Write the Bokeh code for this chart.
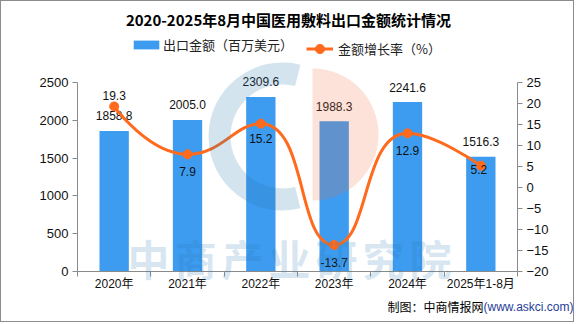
import math
import numpy as np
from bokeh.plotting import figure
from bokeh.models import Range1d, LinearAxis, FixedTicker, Label, Legend, LegendItem
from bokeh.core.properties import value
from bokeh.embed import file_html
from bokeh.resources import INLINE

# ---------------- data ----------------
categories = ["2020年", "2021年", "2022年", "2023年", "2024年", "2025年1-8月"]
export_value = [1858.8, 2005.0, 2309.6, 1988.3, 2241.6, 1516.3]   # 百万美元
growth_rate = [19.3, 7.9, 15.2, -13.7, 12.9, 5.2]                 # %
left_ticks = [0, 500, 1000, 1500, 2000, 2500]
right_ticks = [-20, -15, -10, -5, 0, 5, 10, 15, 20, 25]
LMIN, LMAX = 0, 2500
RMIN, RMAX = -20, 25

# ---------------- style ----------------
BAR = "#3d9cf0"
LINE = "#ff6a1c"
AXIS = "#8a8a8a"
CJK = "Liberation Sans, Noto Sans CJK SC"
W, H = 574, 322
PX0, PX1, PY0, PY1 = 1, W + 1, 1, H + 1      # canvas edges on the page (1px border)
FL, FR, FT, FB = 77, 517, 82, 271             # plot area on the page (px)
N = len(categories)
sx = (FR - FL) / N                           # px per category
def lin(py, lo, hi):
    return lo + (hi - lo) * (FB - py) / (FB - FT)

p = figure(width=W, height=H, output_backend="svg", toolbar_location=None, title=None,
           x_range=Range1d((PX0 - FL) / sx, (PX1 - FL) / sx),
           y_range=Range1d(lin(PY1, LMIN, LMAX), lin(PY0, LMIN, LMAX)),
           min_border=0)
p.styles = {"border": "1px solid #8c8c8c"}
p.extra_y_ranges = {"pct": Range1d(lin(PY1, RMIN, RMAX), lin(PY0, RMIN, RMAX))}
p.grid.visible = False
p.outline_line_color = None
p.background_fill_color = "white"
p.border_fill_color = "white"

xs = np.arange(N) + 0.5

def px_x(px):
    return (px - FL) / sx

def py_y(py):
    return lin(py, LMIN, LMAX)

# ---------------- axes ----------------
xa = p.xaxis[0]
xa.fixed_location = 0
xa.bounds = (0, N)
xa.ticker = FixedTicker(ticks=list(xs), minor_ticks=list(range(N + 1)))
xa.major_label_overrides = {float(x): c for x, c in zip(xs, categories)}
xa.axis_line_color = AXIS
xa.major_tick_line_color = None
xa.major_tick_out = 0
xa.major_tick_in = 0
xa.minor_tick_line_color = AXIS
xa.minor_tick_out = 5
xa.minor_tick_in = 0
xa.major_label_standoff = 0
xa.major_label_text_font = CJK
xa.major_label_text_font_size = "12px"
xa.major_label_text_color = "#111"

ya = p.yaxis[0]
ya.fixed_location = 0
ya.bounds = (LMIN, LMAX)
ya.ticker = FixedTicker(ticks=left_ticks)
ya.axis_line_color = AXIS
ya.major_tick_line_color = AXIS
ya.major_tick_out = 5
ya.major_tick_in = 0
ya.minor_tick_line_color = None
ya.major_label_standoff = 4
ya.major_label_text_font = "Liberation Sans"
ya.major_label_text_font_size = "13px"
ya.major_label_text_color = "#111"

ra = LinearAxis(y_range_name="pct", ticker=FixedTicker(ticks=right_ticks))
ra.fixed_location = N
ra.bounds = (RMIN, RMAX)
ra.axis_line_color = AXIS
ra.major_tick_line_color = AXIS
ra.major_tick_out = 5
ra.major_tick_in = 0
ra.minor_tick_line_color = None
ra.major_label_standoff = 4
ra.major_label_text_font = "Liberation Sans"
ra.major_label_text_font_size = "13px"
ra.major_label_text_color = "#111"
p.add_layout(ra, "right")

LBL_FONT = value("Liberation Sans")

# ---------------- bars ----------------
bars = p.vbar(x=xs, top=export_value, width=0.4, fill_color=BAR, line_color=None)
p.text(x=xs, y=export_value, text=[f"{v:.1f}" for v in export_value],
       text_align="center", text_baseline="middle", y_offset=-15,
       text_font_size="12px", text_color="#111", text_font=LBL_FONT)

# ---------------- smooth line (ECharts-style bezier) ----------------
sy = (FB - FT) / (RMAX - RMIN)
P = [(x * sx, g * sy) for x, g in zip(xs, growth_rate)]
smooth = 0.5
segs = []
cp0 = P[0]
for k in range(1, len(P)):
    (px_, py_), (x, y) = P[k - 1], P[k]
    if k == len(P) - 1:
        cp1, nxt = (x, y), None
    else:
        nx, ny = P[k + 1]
        vx, vy = nx - px_, ny - py_
        l0 = math.hypot(x - px_, y - py_)
        l1 = math.hypot(nx - x, ny - y)
        r = l1 / (l0 + l1)
        ncx, ncy = x + vx * smooth * r, y + vy * smooth * r
        ncx = max(min(ncx, max(nx, x)), min(nx, x))
        ncy = max(min(ncy, max(ny, y)), min(ny, y))
        vx, vy = ncx - x, ncy - y
        c1x, c1y = x - vx * l0 / l1, y - vy * l0 / l1
        c1x = max(min(c1x, max(px_, x)), min(px_, x))
        c1y = max(min(c1y, max(py_, y)), min(py_, y))
        vx, vy = x - c1x, y - c1y
        nxt = (x + vx * l1 / l0, y + vy * l1 / l0)
        cp1 = (c1x, c1y)
    segs.append((px_, py_, x, y, cp0[0], cp0[1], cp1[0], cp1[1]))
    cp0 = nxt
segs = np.array(segs)
line_r = p.bezier(x0=segs[:, 0] / sx, y0=segs[:, 1] / sy, x1=segs[:, 2] / sx, y1=segs[:, 3] / sy,
                  cx0=segs[:, 4] / sx, cy0=segs[:, 5] / sy, cx1=segs[:, 6] / sx, cy1=segs[:, 7] / sy,
                  y_range_name="pct", line_color=LINE, line_width=3)
pts = p.scatter(x=xs, y=growth_rate, y_range_name="pct", size=9,
                fill_color=LINE, line_color=LINE)
rate_offsets = [-11, 17, 15, 17, 17, 4]
p.text(x=xs, y=growth_rate, text=[f"{v:.1f}" for v in growth_rate], y_range_name="pct",
       text_align="center", text_baseline="middle", y_offset=rate_offsets,
       x_offset=[0, 0, 0, 0, 0, -2],
       text_font_size="12px", text_color="#111", text_font=LBL_FONT)

# ---------------- watermark ----------------
WM_BLUE = "#2a7ab0"
WM_ORANGE = "#f07040"
p.annular_wedge(x=px_x(282), y=py_y(136), inner_radius=52, outer_radius=74,
                inner_radius_units="screen", outer_radius_units="screen",
                start_angle=math.radians(76), end_angle=math.radians(284),
                fill_color=WM_BLUE, fill_alpha=0.2, line_color=None)
p.wedge(x=px_x(312), y=py_y(134), radius=66, radius_units="screen",
        start_angle=math.radians(-90), end_angle=math.radians(90),
        fill_color=WM_ORANGE, fill_alpha=0.2, line_color=None)
for i, ch in enumerate("中商产业研究院"):
    p.add_layout(Label(x=px_x(148 + 47 * i), y=py_y(257), text=ch, text_align="center",
                       text_baseline="middle", text_font="Noto Sans CJK SC",
                       text_font_size="42px", text_font_style="bold",
                       text_color=WM_BLUE, text_alpha=0.2))

# ---------------- title / footer ----------------
p.add_layout(Label(x=px_x(288), y=py_y(19), text="2020-2025年8月中国医用敷料出口金额统计情况",
                   text_align="center", text_baseline="middle", text_font="Noto Sans CJK SC",
                   text_font_size="15px", text_font_style="bold", text_color="#000"))
p.add_layout(Label(x=px_x(483), y=py_y(306), text="制图：中商情报网", text_align="right",
                   text_baseline="middle", text_font="Noto Sans CJK SC",
                   text_font_size="12px", text_color="#000"))
p.add_layout(Label(x=px_x(483), y=py_y(306), text="(www.askci.com)", text_align="left",
                   text_baseline="middle", text_font="Liberation Sans",
                   text_font_size="12px", text_color="#1f3d99"))

# ---------------- legends ----------------
leg1 = Legend(items=[LegendItem(label="出口金额（百万美元）", renderers=[bars])],
              location=(130 - PX0, PY1 - 54), orientation="horizontal",
              glyph_width=32, glyph_height=11, label_height=11, label_standoff=1,
              padding=0, margin=0, border_line_color=None, background_fill_alpha=0,
              label_text_font="Noto Sans CJK SC", label_text_font_size="13px",
              label_text_color="#222")
leg2 = Legend(items=[LegendItem(label="金额增长率（%）", renderers=[line_r, pts])],
              location=(306 - PX0, PY1 - 60), orientation="horizontal",
              glyph_width=27, glyph_height=23, label_height=23, label_standoff=5,
              padding=0, margin=0, border_line_color=None, background_fill_alpha=0,
              label_text_font="Noto Sans CJK SC", label_text_font_size="13px",
              label_text_color="#222")
p.add_layout(leg1, "center")
p.add_layout(leg2, "center")

open("out.html", "w").write(file_html(p, INLINE))
